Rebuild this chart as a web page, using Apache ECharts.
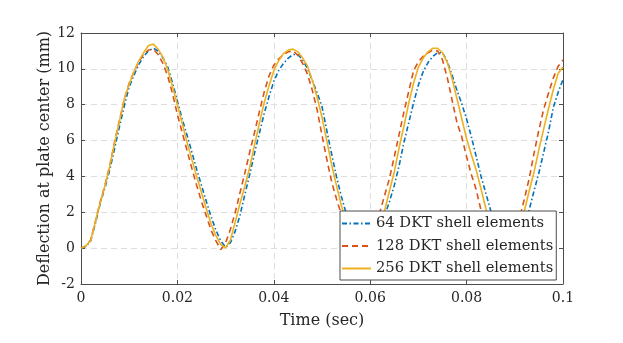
<!DOCTYPE html>
<html>
<head>
<meta charset="utf-8">
<script src="https://cdn.jsdelivr.net/npm/echarts@6/dist/echarts.min.js"></script>
<style>
  html, body { margin: 0; padding: 0; background: #fff; }
  #chart { width: 623px; height: 343px; }
</style>
</head>
<body>
<div id="chart"></div>
<script>
// sample times in ms (converted to seconds below)
const timeMs = [0,1,2,3,4,5,6,7,8,9,10,11,12,13,14,15,16,17,18,19,20,21,22,23,24,25,26,27,28,29,30,
  31,32,33,34,35,36,37,38,39,40,41,42,43,44,45,46,47,48,49,50,51,52,53,54,55,56,57,58,59,60,
  61,62,63,64,65,66,67,68,69,70,71,72,73,74,75,76,77,78,79,80,81,82,83,84,85,86,87,88,89,90,
  91,92,93,94,95,96,97,98,99,100];

// 64 DKT shell elements
const dkt64 = [0,0.1,0.4,1.4,2.5,3.4,4.4,5.6,6.8,7.95,9.0,9.65,10.25,10.7,11.0,11.15,11.0,10.6,10.1,9.2,8.2,
  7.2,6.3,5.35,4.4,3.5,2.6,1.75,1.0,0.4,0.05,0.3,0.95,1.85,3.0,4.1,5.3,6.4,7.5,8.45,9.3,
  9.9,10.3,10.6,10.8,10.8,10.5,10.0,9.35,8.65,7.9,6.55,5.25,4.0,2.9,1.95,1.2,0.6,0.2,0.02,0.2,
  0.6,1.15,1.8,2.6,3.5,4.6,5.9,7.0,8.1,9.1,9.85,10.35,10.7,10.9,10.9,10.4,9.65,8.8,8.05,7.2,
  6.2,5.1,4.0,3.05,2.1,1.35,0.7,0.25,0.02,0.2,0.6,1.25,2.15,3.2,4.2,5.35,6.5,7.85,8.7,9.4];

// 128 DKT shell elements
const dkt128 = [0,0.12,0.45,1.5,2.6,3.55,4.65,5.95,7.15,8.3,9.2,9.85,10.4,10.8,11.05,11.1,10.8,10.3,9.6,8.6,7.45,
  6.45,5.45,4.45,3.5,2.6,1.8,1.0,0.4,-0.08,0.3,1.05,2.0,3.1,4.2,5.35,6.45,7.6,8.7,9.6,10.2,
  10.55,10.8,10.95,11.0,10.75,10.3,9.7,8.8,7.7,6.3,4.95,3.7,2.75,1.9,1.15,0.55,0.15,0.0,0.15,0.55,
  1.15,2.0,2.95,3.9,5.1,6.35,7.6,8.75,9.9,10.4,10.7,10.9,11.05,11.0,10.5,9.5,8.25,7.0,6.2,5.1,
  4.1,3.25,2.1,1.3,0.7,0.25,0.05,0.1,0.4,0.95,1.7,2.75,3.9,5.3,6.6,7.75,8.65,9.5,10.15,10.5];

// 256 DKT shell elements
const dkt256 = [0,0.12,0.42,1.5,2.55,3.5,4.6,5.9,7.1,8.35,9.15,9.85,10.45,10.9,11.3,11.38,11.1,10.65,9.95,9.0,8.0,
  6.95,5.9,4.95,4.0,3.1,2.2,1.35,0.7,0.2,0.02,0.45,1.45,2.5,3.45,4.5,5.75,6.95,8.1,9.05,9.9,
  10.45,10.85,11.05,11.1,10.95,10.6,10.15,9.35,8.4,7.3,6.0,4.65,3.5,2.4,1.5,0.8,0.3,0.05,0.02,0.25,
  0.75,1.45,2.1,3.2,4.25,5.6,6.8,8.1,9.2,10.1,10.6,10.95,11.15,11.15,10.9,10.35,9.45,8.33,7.22,6.1,
  5.2,4.35,3.3,2.2,1.3,0.65,0.2,0.02,0.2,0.7,1.35,2.1,3.2,4.25,5.5,6.65,7.8,8.85,9.75,10.1];

const seriesNames = ["64 DKT shell elements", "128 DKT shell elements", "256 DKT shell elements"];
const xTickLabels = ["0", "0.02", "0.04", "0.06", "0.08", "0.1"];
const yTickLabels = ["-2", "0", "2", "4", "6", "8", "10", "12"];

const FONT = "DejaVu Serif";
const textColor = "#262626";
const boxColor = "#4d4d4d";

function pairs(vals) {
  return vals.map((v, i) => [timeMs[i] / 1000, v]);
}

const chart = echarts.init(document.getElementById("chart"), null, { renderer: "canvas" });

const gridLine = { show: true, lineStyle: { color: "#dedede", type: [6, 4], width: 1 } };

chart.setOption({
  animation: false,
  backgroundColor: "#fff",
  grid: { left: 81, right: 60, top: 33, bottom: 59 },
  xAxis: [
    {
      type: "value", min: 0, max: 0.1, interval: 0.02,
      name: "Time (sec)", nameLocation: "middle", nameGap: 29, nameMoveOverlap: false,
      nameTextStyle: { fontFamily: FONT, fontSize: 16, color: textColor },
      axisLine: { show: true, onZero: false, lineStyle: { color: boxColor, width: 1 } },
      axisTick: { show: true, inside: true, length: 4, lineStyle: { color: boxColor } },
      axisLabel: {
        fontFamily: FONT, fontSize: 14, color: textColor, margin: 7,
        formatter: (v) => xTickLabels[Math.round(v / 0.02)]
      },
      splitLine: gridLine
    },
    {
      type: "value", min: 0, max: 0.1, interval: 0.02, position: "top",
      axisLine: { show: true, onZero: false, lineStyle: { color: boxColor, width: 1 } },
      axisTick: { show: true, inside: true, length: 4, lineStyle: { color: boxColor } },
      axisLabel: { show: false },
      splitLine: { show: false }
    }
  ],
  yAxis: [
    {
      type: "value", min: -2, max: 12, interval: 2,
      name: "Deflection at plate center (mm)", nameLocation: "middle", nameGap: 28, nameMoveOverlap: false,
      nameTextStyle: { fontFamily: FONT, fontSize: 16, color: textColor },
      axisLine: { show: true, onZero: false, lineStyle: { color: boxColor, width: 1 } },
      axisTick: { show: true, inside: true, length: 4, lineStyle: { color: boxColor } },
      axisLabel: {
        fontFamily: FONT, fontSize: 14, color: textColor, margin: 6,
        formatter: (v) => yTickLabels[Math.round((v + 2) / 2)]
      },
      splitLine: gridLine
    },
    {
      type: "value", min: -2, max: 12, interval: 2, position: "right",
      axisLine: { show: true, onZero: false, lineStyle: { color: boxColor, width: 1 } },
      axisTick: { show: true, inside: true, length: 4, lineStyle: { color: boxColor } },
      axisLabel: { show: false },
      splitLine: { show: false }
    }
  ],
  legend: {
    orient: "vertical", left: 340, top: 211,
    align: "left",
    itemWidth: 29, itemHeight: 14, itemGap: 7.5,
    padding: [5, 3, 4, 1],
    backgroundColor: "#fff",
    borderColor: boxColor, borderWidth: 1, borderRadius: 0,
    itemStyle: { opacity: 0 },
    textStyle: { fontFamily: FONT, fontSize: 14.7, color: textColor },
    data: seriesNames
  },
  series: [
    {
      name: seriesNames[0], type: "line", data: pairs(dkt64),
      showSymbol: false, symbol: "none", smooth: false,
      lineStyle: { color: "#0072BD", width: 1.6, type: [5, 2.5, 1.5, 2.5] },
      itemStyle: { color: "#0072BD" }
    },
    {
      name: seriesNames[1], type: "line", data: pairs(dkt128),
      showSymbol: false, symbol: "none", smooth: false,
      lineStyle: { color: "#D95319", width: 1.6, type: [6, 4] },
      itemStyle: { color: "#D95319" }
    },
    {
      name: seriesNames[2], type: "line", data: pairs(dkt256),
      showSymbol: false, symbol: "none", smooth: false,
      lineStyle: { color: "#EDB120", width: 1.6, type: "solid" },
      itemStyle: { color: "#EDB120" }
    }
  ]
});
</script>
</body>
</html>
